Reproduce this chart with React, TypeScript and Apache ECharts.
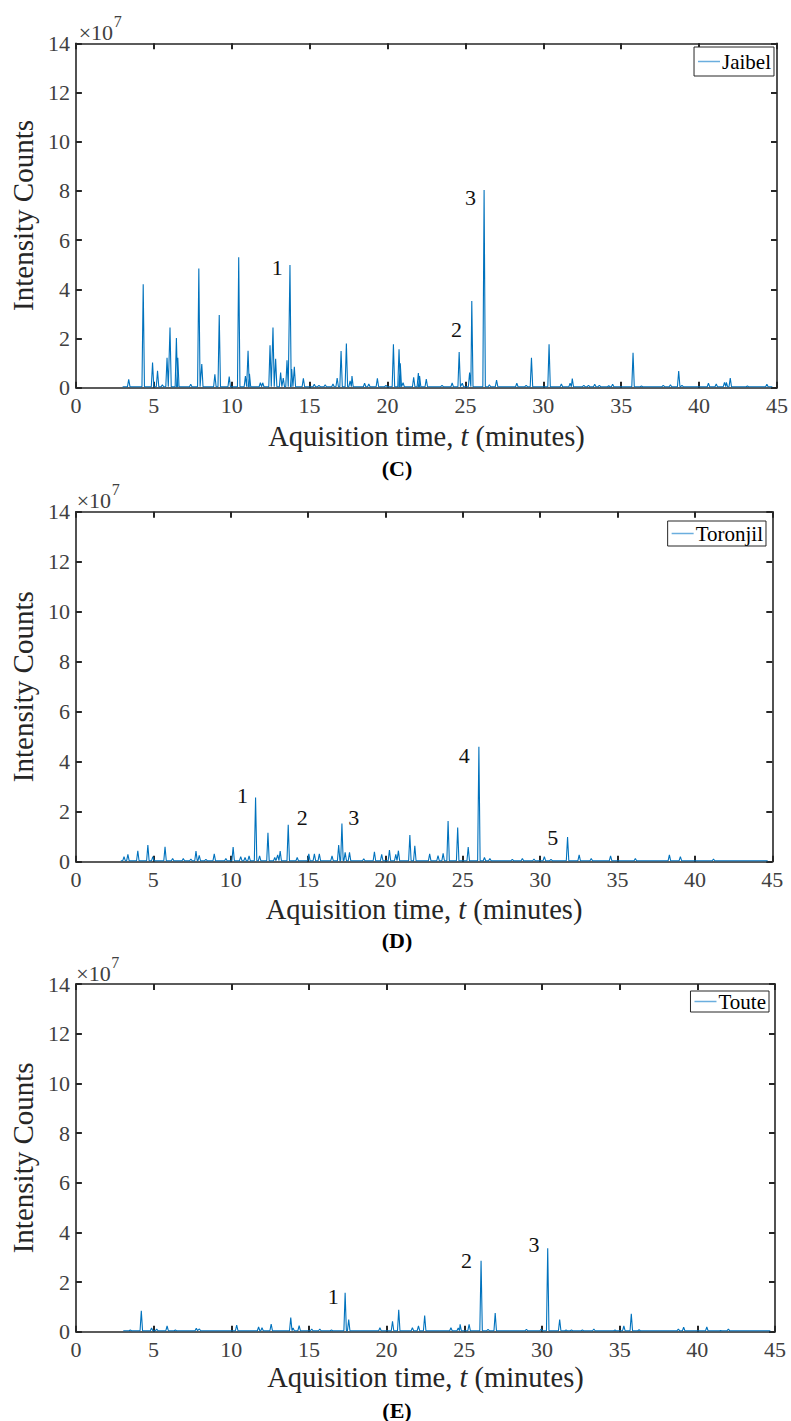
import React, { useEffect, useRef } from "react";
import * as echarts from "echarts";

// ---------- data (intensity in units of 1e7 counts, time in minutes) ----------
const sampleNames = ["Jaibel", "Toronjil", "Toute"];
const captions = ["(C)", "(D)", "(E)"];
const xTicks = [0, 5, 10, 15, 20, 25, 30, 35, 40, 45];
const yTicks = [0, 2, 4, 6, 8, 10, 12, 14];

const jaibelTimes = [3.39, 4.32, 4.92, 5.24, 5.55, 5.85, 6.04, 6.45, 6.54, 7.37, 7.89, 8.08, 8.92, 9.2, 9.84, 10.45, 10.88, 11.05, 11.14, 11.84, 11.99, 12.46, 12.65, 12.82, 13.14, 13.31, 13.55, 13.74, 13.85, 14.02, 14.6, 15.3, 15.6, 16.0, 16.5, 16.77, 17.02, 17.36, 17.6, 17.72, 18.53, 18.8, 19.35, 19.9, 20.38, 20.74, 20.82, 21.0, 21.68, 21.98, 22.06, 22.49, 23.5, 24.15, 24.6, 24.8, 25.27, 25.41, 26.2, 26.54, 27.0, 28.3, 28.9, 29.24, 30.37, 31.16, 31.72, 31.86, 32.6, 32.9, 33.3, 33.6, 34.2, 34.45, 35.76, 36.3, 37.7, 38.16, 38.69, 38.9, 40.6, 41.1, 41.63, 41.75, 42.0, 43.1, 44.35];
const jaibelHeights = [0.34, 4.21, 1.02, 0.69, 0.12, 1.22, 2.45, 2.02, 1.22, 0.14, 4.85, 0.96, 0.54, 2.95, 0.45, 5.3, 0.47, 1.5, 0.56, 0.2, 0.2, 1.73, 2.45, 1.18, 0.62, 0.39, 1.11, 4.99, 0.76, 0.85, 0.38, 0.14, 0.1, 0.12, 0.15, 0.39, 1.49, 1.8, 0.28, 0.47, 0.18, 0.15, 0.38, 0.1, 1.77, 1.56, 0.99, 0.2, 0.42, 0.6, 0.47, 0.35, 0.1, 0.19, 1.45, 0.18, 0.62, 3.52, 8.04, 0.12, 0.31, 0.18, 0.1, 1.22, 1.77, 0.15, 0.18, 0.37, 0.1, 0.1, 0.14, 0.1, 0.08, 0.14, 1.42, 0.07, 0.1, 0.12, 0.68, 0.1, 0.18, 0.15, 0.22, 0.22, 0.39, 0.07, 0.14];

const toronjilTimes = [3.11, 3.36, 4.0, 4.65, 4.97, 5.76, 6.25, 6.94, 7.43, 7.76, 7.97, 8.4, 8.94, 9.69, 10.16, 10.65, 10.93, 11.19, 11.61, 11.87, 12.41, 12.85, 13.04, 13.2, 13.72, 14.3, 15.05, 15.41, 15.73, 16.55, 16.98, 17.19, 17.4, 17.68, 18.6, 19.29, 19.76, 20.26, 20.67, 20.84, 21.58, 21.9, 22.86, 23.4, 23.73, 24.05, 24.67, 25.35, 26.04, 26.4, 26.75, 28.2, 28.85, 29.6, 30.27, 30.7, 31.77, 32.52, 33.3, 34.55, 36.15, 38.35, 39.06, 41.2];
const toronjilHeights = [0.2, 0.29, 0.44, 0.67, 0.2, 0.6, 0.13, 0.13, 0.11, 0.43, 0.25, 0.09, 0.31, 0.13, 0.59, 0.2, 0.17, 0.23, 2.57, 0.23, 1.16, 0.17, 0.27, 0.43, 1.48, 0.17, 0.31, 0.31, 0.31, 0.23, 0.67, 1.53, 0.37, 0.37, 0.12, 0.4, 0.29, 0.47, 0.29, 0.44, 1.07, 0.64, 0.31, 0.24, 0.33, 1.63, 1.37, 0.59, 4.6, 0.17, 0.13, 0.09, 0.13, 0.11, 0.2, 0.09, 0.99, 0.27, 0.13, 0.23, 0.13, 0.27, 0.2, 0.11];

const touteTimes = [3.5, 4.21, 4.87, 5.2, 5.87, 6.4, 7.75, 7.95, 10.35, 11.76, 11.98, 12.57, 13.83, 13.98, 14.37, 15.18, 15.7, 16.45, 17.33, 17.56, 19.1, 19.57, 20.38, 20.78, 21.66, 22.05, 22.45, 23.5, 24.14, 24.61, 24.73, 25.31, 26.08, 26.53, 26.99, 28.35, 29.0, 29.95, 30.37, 31.14, 31.55, 31.9, 32.6, 33.34, 33.9, 34.7, 35.27, 35.75, 36.25, 37.8, 38.78, 39.12, 40.61, 41.5, 42.0, 43.1];
const touteHeights = [0.07, 0.84, 0.15, 0.1, 0.23, 0.07, 0.14, 0.11, 0.27, 0.19, 0.16, 0.31, 0.57, 0.15, 0.24, 0.11, 0.11, 0.07, 1.57, 0.49, 0.04, 0.16, 0.42, 0.88, 0.16, 0.23, 0.65, 0.04, 0.16, 0.15, 0.3, 0.3, 2.86, 0.09, 0.75, 0.04, 0.09, 0.11, 3.36, 0.49, 0.07, 0.07, 0.07, 0.11, 0.04, 0.07, 0.23, 0.72, 0.08, 0.04, 0.1, 0.18, 0.19, 0.05, 0.1, 0.04];

const traceStart = [3.0, 2.9, 3.05];
const traceEnd = [44.7, 44.7, 44.7];

// peak annotations: [time, intensity, label]
const jaibelNotes: [number, number, string][] = [[12.93, 4.87, "1"], [24.43, 2.35, "2"], [25.33, 7.75, "3"]];
const toronjilNotes: [number, number, string][] = [[10.77, 2.63, "1"], [14.62, 1.75, "2"], [17.96, 1.75, "3"], [25.1, 4.24, "4"], [30.82, 0.95, "5"]];
const touteNotes: [number, number, string][] = [[16.56, 1.4, "1"], [25.14, 2.86, "2"], [29.49, 3.51, "3"]];

// ---------- layout ----------
const W = 791;
const H = 1421;
const grids = [
  { left: 74.7, top: 43.3, width: 704.3, height: 344.4 },
  { left: 72.7, top: 511.7, width: 699.6, height: 350 },
  { left: 72.3, top: 984, width: 702.7, height: 347.7 },
];
const legendPos = [
  { right: 17, top: 47, padding: [4, 3, 4, 4] },
  { right: 25, top: 521, padding: [2, 3, 2, 4] },
  { right: 22, top: 991, padding: [0, 3, 0, 4] },
];
const captionY = [468, 940, 1410];
const xNameGap = [34, 33, 31];
const yNameGap = [32, 36, 32];

const SERIF = "Liberation Serif";
const LINE = "#0072BD";
const AX = "#262626";
const LBL = "#404040";

function buildTrace(times: number[], heights: number[], start: number, end: number) {
  const base = 0.04;
  const hw = 0.08;
  const pts: number[][] = [[start, base]];
  for (let i = 0; i < times.length; i++) {
    pts.push([times[i] - hw, base], [times[i], heights[i]], [times[i] + hw, base]);
  }
  pts.push([end, base]);
  return pts;
}

export default function App() {
  const ref = useRef<HTMLDivElement>(null);
  useEffect(() => {
    if (!ref.current) return;
    const chart = echarts.init(ref.current, undefined, { renderer: "svg" });
    const traces = [
      buildTrace(jaibelTimes, jaibelHeights, traceStart[0], traceEnd[0]),
      buildTrace(toronjilTimes, toronjilHeights, traceStart[1], traceEnd[1]),
      buildTrace(touteTimes, touteHeights, traceStart[2], traceEnd[2]),
    ];
    const notes = [jaibelNotes, toronjilNotes, touteNotes];

    const xAxis: any[] = [];
    const yAxis: any[] = [];
    const series: any[] = [];
    const legend: any[] = [];
    const graphic: any[] = [];

    grids.forEach((g, i) => {
      const axisLine = { show: true, onZero: false, lineStyle: { color: AX, width: 1.6 } };
      const tick = { show: true, inside: true, length: 6, lineStyle: { color: AX, width: 2 } };
      xAxis.push({
        gridIndex: i,
        type: "value",
        position: "bottom",
        min: xTicks[0],
        max: xTicks[xTicks.length - 1],
        interval: xTicks[1] - xTicks[0],
        axisLine,
        axisTick: tick,
        splitLine: { show: false },
        axisLabel: { fontFamily: SERIF, fontSize: 22, color: LBL, margin: 7 },
        name: "Aquisition time, {i|t} (minutes)",
        nameLocation: "middle",
        nameGap: xNameGap[i],
        nameTextStyle: {
          fontFamily: SERIF,
          fontSize: 28.5,
          color: AX,
          rich: { i: { fontFamily: SERIF, fontSize: 28.5, fontStyle: "italic", color: AX } },
        },
      });
      xAxis.push({
        gridIndex: i,
        type: "value",
        position: "top",
        min: xTicks[0],
        max: xTicks[xTicks.length - 1],
        interval: xTicks[1] - xTicks[0],
        axisLine,
        axisTick: tick,
        splitLine: { show: false },
        axisLabel: { show: false },
      });
      yAxis.push({
        gridIndex: i,
        type: "value",
        position: "left",
        min: yTicks[0],
        max: yTicks[yTicks.length - 1],
        interval: yTicks[1] - yTicks[0],
        axisLine,
        axisTick: tick,
        splitLine: { show: false },
        axisLabel: { fontFamily: SERIF, fontSize: 22, color: LBL, margin: 6 },
        name: "Intensity Counts",
        nameLocation: "middle",
        nameRotate: 90,
        nameGap: yNameGap[i],
        nameTextStyle: { fontFamily: SERIF, fontSize: 29, color: AX },
      });
      yAxis.push({
        gridIndex: i,
        type: "value",
        position: "right",
        min: yTicks[0],
        max: yTicks[yTicks.length - 1],
        interval: yTicks[1] - yTicks[0],
        axisLine,
        axisTick: tick,
        splitLine: { show: false },
        axisLabel: { show: false },
      });
      series.push({
        name: sampleNames[i],
        type: "line",
        xAxisIndex: 2 * i,
        yAxisIndex: 2 * i,
        data: traces[i],
        symbol: "none",
        lineStyle: { color: LINE, width: 1.1 },
        itemStyle: { color: LINE },
        z: 3,
        markPoint: {
          symbol: "circle",
          symbolSize: 1,
          itemStyle: { color: "rgba(0,0,0,0)" },
          label: {
            show: true,
            position: "inside",
            formatter: "{b}",
            fontFamily: SERIF,
            fontSize: 22,
            color: "#111",
          },
          data: notes[i].map((n) => ({ name: n[2], coord: [n[0], n[1]] })),
        },
      });
      legend.push({
        show: true,
        data: [{ name: sampleNames[i], itemStyle: { color: "#6aaede" } }],
        right: legendPos[i].right,
        top: legendPos[i].top,
        padding: legendPos[i].padding,
        borderColor: AX,
        borderWidth: 1,
        backgroundColor: "#fff",
        icon: "rect",
        itemWidth: 22,
        itemHeight: 1.5,
        itemGap: 0,
        selectedMode: false,
        textStyle: { fontFamily: SERIF, fontSize: 21, color: "#000", padding: [0, 0, 0, -3] },
      });
      graphic.push({
        type: "text",
        left: g.left + 4,
        top: g.top - 22,
        style: { text: "×10", fontFamily: SERIF, fontSize: 22, fill: LBL },
      });
      graphic.push({
        type: "text",
        left: g.left + 39,
        top: g.top - 30,
        style: { text: "7", fontFamily: SERIF, fontSize: 16, fill: LBL },
      });
      graphic.push({
        type: "text",
        x: 397,
        y: captionY[i],
        style: {
          text: captions[i],
          fontFamily: SERIF,
          fontSize: 22,
          fontWeight: "bold",
          fill: "#000",
          align: "center",
          verticalAlign: "middle",
        },
      });
    });

    chart.setOption({
      animation: false,
      backgroundColor: "#fff",
      textStyle: { fontFamily: SERIF },
      grid: grids.map((g) => ({ ...g, containLabel: false })),
      xAxis,
      yAxis,
      series,
      legend,
      graphic,
    });
    return () => chart.dispose();
  }, []);
  return <div ref={ref} style={{ position: "absolute", left: 0, top: 0, width: W, height: H }} />;
}
